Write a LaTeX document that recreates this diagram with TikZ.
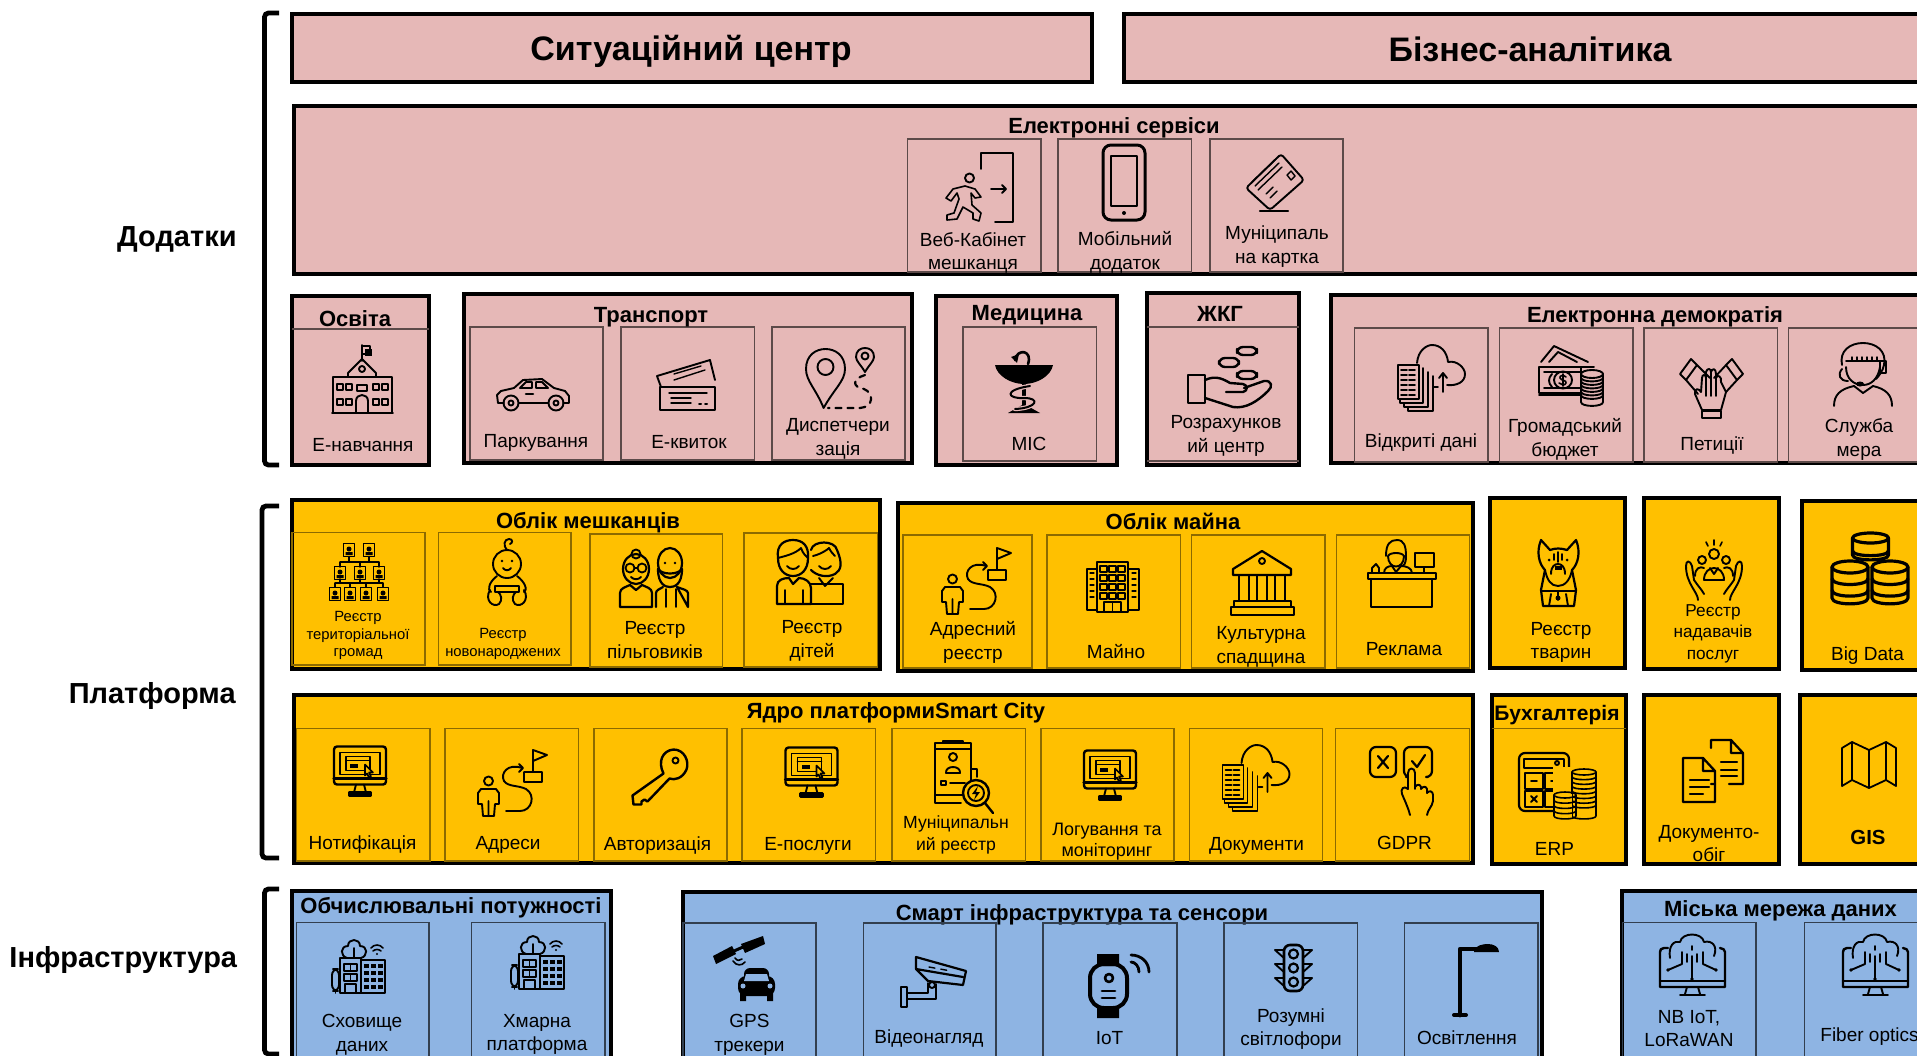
\documentclass[tikz,border=0pt]{standalone}
\usepackage{fontspec}
\setmainfont{Liberation Sans}
\definecolor{pnk}{HTML}{E6B8B7}
\definecolor{org}{HTML}{FFC000}
\definecolor{blu}{HTML}{8EB4E3}
\newcommand\bx[5]{\path[#1] (#2,#3) rectangle (#4,#5);}
\newcommand\cyl[6]{% cx top rx ry height bands
  \draw (#1-#3,#2) -- (#1-#3,#2+#5) .. controls (#1-#3,#2+#5+#4*1.3) and (#1+#3,#2+#5+#4*1.3) .. (#1+#3,#2+#5) -- (#1+#3,#2);
  \draw (#1,#2) ellipse [x radius=#3,y radius=#4];
  \foreach \k in {1,...,#6}{\draw (#1-#3,#2+\k*#5/#6-\k*#5/#6/4) .. controls (#1-#3,#2+\k*#5/#6-\k*#5/#6/4+#4*1.3) and (#1+#3,#2+\k*#5/#6-\k*#5/#6/4+#4*1.3) .. (#1+#3,#2+\k*#5/#6-\k*#5/#6/4);}
}
\tikzset{
  x=0.5pt,y=-0.5pt,
  outerp/.style={fill=pnk,draw=black,line width=2pt},
  outero/.style={fill=org,draw=black,line width=2pt},
  outerb/.style={fill=blu,draw=black,line width=2pt},
  cellp/.style={draw=black!60!pnk,line width=.55pt},
  cello/.style={draw=black!45!org,line width=.55pt},
  cellb/.style={draw=black!65!blu,line width=.55pt},
  brk/.style={draw=black,line width=2.4pt,rounded corners=2pt},
  lab/.style={font=\fontsize{9.5}{11.9}\selectfont,align=center,inner sep=0pt,text=black,yshift=-1.25pt},
  labm/.style={font=\fontsize{8.6}{10.8}\selectfont,align=center,inner sep=0pt,text=black,yshift=-1.25pt},
  labs/.style={font=\fontsize{7.4}{8.9}\selectfont,align=center,inner sep=0pt,text=black,yshift=-1.25pt},
  ttl/.style={font=\bfseries\fontsize{11}{12}\selectfont,align=center,inner sep=0pt,yshift=-1.25pt},
  big/.style={font=\bfseries\fontsize{17}{19}\selectfont,inner sep=0pt,yshift=-1.25pt},
  side/.style={font=\bfseries\fontsize{14.5}{16}\selectfont,anchor=east,inner sep=0pt,yshift=-1.25pt},
  icon/.style={line width=.95pt,line join=round,line cap=round},
  pics/icExit/.style={code={
    \draw (36,16)--(36,0)--(68,0)--(68,69)--(50,69);
    \draw (46,36)--(61,36) (57,32)--(61,36)--(57,40);
    \draw (24.5,25) circle (4.5);
    \draw[line width=.8pt] (20,33)--(30,36)--(36,44)--(30,45)--(26,40)--(27,52)--(36,60)--(34,68)--(28,66)--(28,60)--(18,54)--(12,66)--(2,67)--(2,62)--(9,60)--(14,46)--(12,40)--(6,48)--(1,45)--(8,36)--cycle;
  }},
  pics/icPhone/.style={code={
    \draw[line width=1.5pt,rounded corners=4pt] (0,0) rectangle (42,75);
    \draw[line width=1pt] (8,11) rectangle (34,61);
    \fill (21,68) circle (2);
  }},
  pics/icCard/.style={code={
    \draw[rounded corners=1.5pt] (35,0)--(58,26)--(24,56)--(0,34)--cycle;
    \draw[line width=.7pt] (6,28)--(30,5) (9,32)--(33,9) (12,36)--(36,13);
    \draw[line width=.7pt] (41,21)--(45,17)--(49,22)--(45,26)--cycle;
    \draw[line width=.7pt] (20,40)--(27,33) (24,44)--(31,37);
    \draw[line width=1.2pt] (14,57)--(42,57);
  }},
  pics/icSchool/.style={code={
    \draw (30,16)--(30,0) (30,1)--(38,1)--(38,9)--(30,9);
    \fill (33,4) rectangle (40,11);
    \draw (30,14)--(16,28)--(16,32) (30,14)--(44,28)--(44,32);
    \draw (30,24) circle (3);
    \draw (16,32)--(1,32)--(1,68)--(60,68)--(60,32)--(44,32)--(16,32);
    \draw (24,68)--(24,56) .. controls (24,48) and (36,48) .. (36,56)--(36,68);
    \draw (25,40) rectangle (35,46);
    \foreach \a in {5,14,41,50}{\foreach \b in {39,54}{\draw[line width=.7pt] (\a,\b) rectangle (\a+6,\b+6);}}
    \draw (0,68)--(61,68);
  }},
  pics/icCar/.style={code={
    \draw (8,25)--(2,25)--(1,17)--(5,13)--(18,10)--(27,2)--(46,1)--(58,10)--(69,13)--(73,18)--(73,25)--(67,25);
    \draw (23,25)--(52,25);
    \draw (15,25) circle (7.5) (15,25) circle (2.5) (60,25) circle (7.5) (60,25) circle (2.5);
    \draw (24,10)--(30,4)--(36,4)--(36,10)--cycle (40,4)--(46,4)--(52,10)--(40,10)--cycle;
    \draw[line width=1.3pt] (30,16)--(37,16);
  }},
  pics/icTickets/.style={code={
    \draw (4,27)--(0,16)--(53,0)--(58,20);
    \draw[line width=.7pt] (17,14)--(44,6) (17,20)--(48,10);
    \draw[line width=1.2pt] (3,27) rectangle (58,50);
    \draw[line width=.7pt] (12,33)--(50,33) (14,38)--(34,38) (14,43)--(34,43);
    \draw[line width=1pt,dotted] (42,44)--(52,44);
  }},
  pics/icPins/.style={code={
    \draw (17.6,61) .. controls (10,42) and (0,34) .. (0,22) .. controls (0,8) and (10,2) .. (19.5,2) .. controls (29,2) and (39,8) .. (39,22) .. controls (39,34) and (28,42) .. cycle;
    \draw (19.5,20) circle (8);
    \draw (59,25) .. controls (55,18) and (50,14) .. (50,10) .. controls (50,4) and (54,1) .. (59,1) .. controls (64,1) and (68,4) .. (68,10) .. controls (68,14) and (63,18) .. cycle;
    \draw (59,9) circle (3.5);
    \draw[dashed,line width=1.1pt] (59,28) .. controls (46,32) and (46,40) .. (58,42) .. controls (68,46) and (68,60) .. (54,61) -- (22,61);
  }},
  pics/icBowl/.style={code={
    \fill (0,13) -- (58,13) .. controls (56,24) and (42,32) .. (29,32) .. controls (16,32) and (2,24) .. cycle;
    \draw[line width=1.8pt] (29,32)--(29,54);
    \fill (13,61)--(45,61)--(29,52)--cycle;
    \draw[pnk,line width=2.2pt] (35,34) .. controls (8,38) and (12,47) .. (29,46) .. controls (46,46) and (42,56) .. (20,57);
    \draw[line width=1pt] (35,34) .. controls (8,38) and (12,47) .. (29,46) .. controls (46,46) and (42,56) .. (20,57);
    \draw[line width=1.3pt] (33,12) .. controls (38,-2) and (22,-4) .. (20,8);
    \fill (16,5)--(24,2)--(22,11)--cycle;
  }},
  pics/icHand/.style={code={
    \draw[rounded corners=3pt,line width=1.2pt] (49,0) rectangle (69,8) (31,11) rectangle (51,20) (49,24) rectangle (69,32);
    \draw[line width=1.2pt] (0,28) rectangle (17,56);
    \draw[line width=1.2pt] (17,33) .. controls (28,28) and (35,32) .. (42,36) -- (55,37) .. controls (60,38) and (60,44) .. (55,45) -- (38,45);
    \draw[line width=1.2pt] (56,41) -- (76,34) .. controls (84,33) and (85,40) .. (80,44) .. controls (70,54) and (58,62) .. (45,60) -- (17,51);
  }},
  pics/icCloudDocs/.style={code={
    \draw (1,21) rectangle (22,55);
    \foreach \b in {26,31,36,41,46,51}{\draw[line width=.8pt,dash pattern=on 3pt off 1pt] (4,\b)--(19,\b);}
    \draw (3,56)--(3,59)--(26,59)--(26,24) (7,60)--(7,63)--(31,63)--(31,28) (11,64)--(11,67)--(36,67)--(36,32);
    \draw (20,19) .. controls (21,6) and (30,1) .. (35,1) .. controls (44,1) and (50,8) .. (51,18) .. controls (60,16) and (68,24) .. (68,30) .. controls (68,38) and (60,42) .. (50,41);
    \draw (46,48)--(46,30) (42,34)--(46,29)--(50,34) (37,43)--(41,43);
  }},
  pics/icMoney/.style={code={
    \draw (2,17)--(15,1)--(49,17) (10,17)--(19,7)--(38,17);
    \draw (0,22)--(55,22) (0,22) rectangle (42,48);
    \draw (5,27)--(42,27) (5,43)--(42,43) (0,50)--(42,50);
    \draw (24,35) ellipse [x radius=9,y radius=8.5];
    \draw (13,29) .. controls (9,33) and (9,38) .. (13,42);
    \draw[line width=.8pt] (24,29)--(24,41) (27,32) .. controls (24,29) and (20,31) .. (21,33) .. controls (22,36) and (28,35) .. (27,38) .. controls (26,41) and (22,40) .. (20,38);
    \fill[pnk] (42,30) rectangle (64,58);
    \cyl{53}{29}{11}{4}{28}{6}
  }},
  pics/icPetition/.style={code={
    \draw (0,16)--(11,1)--(17,7)--(6,22)--cycle (63,16)--(52,1)--(46,7)--(57,22)--cycle;
    \draw (6,22)--(18,36) (17,7)--(30,20) (57,22)--(46,34) (46,7)--(34,20);
    \draw (22,60) rectangle (41,53);
    \draw (22,52)--(15,36) .. controls (14,30) and (19,30) .. (21,34) -- (22,20) .. controls (22,16) and (26,16) .. (26,20) -- (26,14) .. controls (27,10) and (31,10) .. (31,14) -- (31,14) .. controls (32,10) and (36,10) .. (36,16) -- (36,20) .. controls (37,16) and (42,18) .. (41,24) -- (46,34) -- (41,52) -- cycle;
    \draw (26,20)--(26,38) (31,14)--(31,38) (36,16)--(36,38);
  }},
  pics/icOperator/.style={code={
    \draw (8,22) .. controls (5,8) and (16,0) .. (29,0) .. controls (42,0) and (53,8) .. (50,22) .. controls (49,28) and (44,34) .. (42,36);
    \draw (12,24) .. controls (12,36) and (20,42) .. (29,42) .. controls (37,42) and (44,36) .. (46,24);
    \draw (12,18)--(46,18);
    \foreach \a in {18,23,28,33,38,43}{\draw[line width=.7pt] (\a,14)--(\a,18);}
    \draw (46,18) rectangle (52,30);
    \draw (8,26) .. controls (3,32) and (6,38) .. (14,38);
    \fill (26,41) ellipse [x radius=4,y radius=2.5];
    \draw (0,63) .. controls (0,52) and (6,46) .. (20,43) -- (29,50) -- (39,43) .. controls (52,46) and (58,52) .. (58,63);
  }},
  pics/icHier/.style={code={
    \draw[line width=.7pt] (20,12)--(20,17) (40,12)--(40,17) (11,17)--(50,17) (11,17)--(11,22) (31,17)--(31,22) (50,17)--(50,22);
    \draw[line width=.7pt] (6,38)--(54,38) (11,34)--(11,38) (31,34)--(31,38) (50,34)--(50,38) (6,38)--(6,42) (21,38)--(21,42) (37,38)--(37,42) (54,38)--(54,42);
    \foreach \a/\b in {20/5,40/5,11/28,31/28,50/28,6/49,21/49,37/49,54/49}{
      \draw[line width=.9pt] (\a-5.5,\b-6.5) rectangle (\a+5.5,\b+6.5);
      \fill (\a,\b-1) circle (2.5) (\a-3.5,\b+5) rectangle (\a+3.5,\b+2);
    }
  }},
  pics/icBaby/.style={code={
    \draw (20,12) .. controls (16,8) and (17,1) .. (22,1) .. controls (26,1) and (26,5) .. (23,6);
    \draw (20,26) circle (14);
    \fill (15,23) circle (1.4) (25,23) circle (1.4);
    \draw (16,30) .. controls (18,33) and (22,33) .. (24,30);
    \draw (10,38) .. controls (2,44) and (0,52) .. (4,54) (30,38) .. controls (38,44) and (41,52) .. (37,54);
    \draw (8,48)--(32,48)--(32,54)--(8,54)--cycle;
    \draw (3,52) .. controls (-3,62) and (6,70) .. (12,66) .. controls (16,62) and (14,56) .. (11,54);
    \draw (37,52) .. controls (43,62) and (34,70) .. (28,66) .. controls (24,62) and (26,56) .. (29,54);
  }},
  pics/icGrand/.style={code={
    \draw[line width=1.1pt] (18,26) ellipse [x radius=13,y radius=15];
    \draw (18,11) circle (4.5);
    \draw[line width=.9pt] (12,25) circle (4.5) (24,25) circle (4.5) (16.5,25)--(19.5,25);
    \draw (13,34) .. controls (16,37) and (20,37) .. (23,34);
    \draw[line width=1.1pt] (2,64)--(2,50) .. controls (2,45) and (8,44) .. (12,42) -- (18,47) -- (24,42) .. controls (28,44) and (34,45) .. (34,50) -- (34,64)--cycle;
    \draw[line width=1.1pt] (52,20) ellipse [x radius=12,y radius=15];
    \draw[line width=1.1pt] (40,26) .. controls (40,42) and (48,44) .. (52,44) .. controls (56,44) and (64,42) .. (64,26) .. controls (60,32) and (44,32) .. (40,26);
    \fill (47,20) circle (1.4) (57,20) circle (1.4);
    \draw[line width=1.1pt] (38,64)--(38,50) .. controls (38,47) and (42,46) .. (45,44) (59,44) .. controls (64,46) and (70,47) .. (70,50) -- (70,64)--cycle;
    \draw (48,46)--(48,64) (58,46)--(58,64);
  }},
  pics/icKids/.style={code={
    \draw[line width=1.1pt] (3,18) .. controls (1,4) and (10,0) .. (18,0) .. controls (28,0) and (34,6) .. (33,18) .. controls (33,30) and (26,36) .. (18,36) .. controls (10,36) and (3,30) .. (3,18);
    \draw (3,18) .. controls (10,16) and (20,14) .. (26,8) .. controls (28,14) and (31,16) .. (33,18);
    \draw (12,26) .. controls (15,30) and (21,30) .. (24,26);
    \draw[line width=1.1pt] (36,10) .. controls (38,0) and (60,0) .. (62,10) .. controls (68,24) and (66,30) .. (60,34) .. controls (52,38) and (42,36) .. (36,30);
    \draw (38,16) .. controls (46,14) and (52,10) .. (54,8) .. controls (56,12) and (58,14) .. (60,16);
    \draw (44,26) .. controls (47,30) and (53,30) .. (56,26);
    \draw[line width=1.1pt] (2,64)--(2,46) .. controls (2,40) and (8,38) .. (14,38) -- (18,44) -- (24,38) .. controls (30,38) and (36,42) .. (36,48) -- (36,64) -- cycle;
    \draw[line width=1.1pt] (36,44) -- (68,44) -- (68,64) -- (36,64);
    \draw (44,38)--(50,46)--(58,38);
    \draw (10,50)--(10,64) (28,50)--(28,64);
  }},
  pics/icRoute/.style={code={
    \draw (10.5,32) circle (4.5);
    \draw (3,40)--(18,40)--(21,44)--(21,55)--(17,55)--(16,67)--(5,67)--(4,55)--(0,55)--(0,44)--cycle (10.5,52)--(10.5,67);
    \draw (46,23) rectangle (64,33) (55,23)--(55,1)--(69,6)--(55,12);
    \draw (44,19) .. controls (30,14) and (22,24) .. (26,32) .. controls (30,38) and (40,36) .. (48,40) .. controls (58,46) and (54,62) .. (42,62) -- (28,62);
    \draw (41,15)--(45,19)--(41,23);
  }},
  pics/icBuilding/.style={code={
    \draw (0,7) rectangle (10,48) (41,7) rectangle (52,48) (10,0) rectangle (41,50);
    \foreach \a in {13,22,31}{\foreach \b in {4,13,22,31}{\draw[line width=.7pt] (\a,\b) rectangle (\a+7,\b+6);}}
    \foreach \b in {11,17,23,29,35}{\draw[line width=.6pt] (3,\b)--(7,\b) (45,\b)--(49,\b);}
    \draw (17,50)--(17,40)--(34,40)--(34,50) (25.5,40)--(25.5,50);
  }},
  pics/icMuseum/.style={code={
    \draw[line width=1.1pt] (31,0)--(60,18)--(60,24)--(2,24)--(2,18)--cycle;
    \draw (31,10) circle (3);
    \foreach \a in {8,26,44}{\draw[line width=1.1pt] (\a,24) rectangle (\a+10,50);}
    \draw[line width=1.1pt] (3,50) rectangle (60,56) (0,56) rectangle (63,64);
  }},
  pics/icDesk/.style={code={
    \draw[line width=1.2pt] (0,33) rectangle (68,39) (3,39)--(3,67)--(64,67)--(64,39);
    \draw (18,16) .. controls (18,4) and (22,0) .. (29,0) .. controls (36,0) and (38,6) .. (38,16) .. controls (38,24) and (36,26) .. (33,26);
    \draw (20,16) .. controls (20,30) and (36,30) .. (36,16) .. controls (34,12) and (22,12) .. (20,16);
    \draw (16,33) .. controls (16,28) and (20,26) .. (24,26) -- (28,32) -- (33,26) .. controls (38,26) and (44,28) .. (44,33);
    \draw (47,13) rectangle (66,27) (56,27)--(56,33) (50,33)--(62,33);
    \draw (4,33)--(4,28)--(8,24)--(11,28)--(11,33);
  }},
  pics/icDog/.style={code={
    \draw[line width=1.1pt] (4,0) .. controls (-1,12) and (2,24) .. (8,30) -- (4,50) -- (6,66) -- (37,66) -- (39,50) -- (35,30) .. controls (41,24) and (44,12) .. (39,0) -- (30,10) .. controls (24,8) and (18,8) .. (13,10) -- cycle;
    \draw (8,30) .. controls (10,40) and (14,46) .. (21,46) .. controls (28,46) and (33,40) .. (35,30);
    \draw (14,34) .. controls (14,26) and (18,24) .. (21,24) .. controls (24,24) and (28,26) .. (28,34);
    \fill (18,26) rectangle (25,30);
    \draw (21,12)--(21,22) (17,14)--(17,20) (25,14)--(25,20);
    \fill (12,20) circle (1.5) (30,20) circle (1.5);
    \draw (5,51)--(38,51) (21,52)--(21,60);
    \fill (21,58) circle (2.5);
    \draw (12,66)--(14,54) (31,66)--(29,54);
  }},
  pics/icCare/.style={code={
    \draw (14,60) .. controls (14,52) and (2,44) .. (2,26) .. controls (2,20) and (6,20) .. (8,26) -- (10,40) (10,40) .. controls (14,46) and (18,50) .. (20,54);
    \draw (46,60) .. controls (46,52) and (58,44) .. (58,26) .. controls (58,20) and (54,20) .. (52,26) -- (50,40) .. controls (46,46) and (42,50) .. (40,54);
    \draw (30,14) circle (5) (18,20) circle (4) (42,20) circle (4);
    \draw (20,40) .. controls (20,24) and (40,24) .. (40,40)--cycle;
    \draw (11,36) .. controls (11,28) and (16,26) .. (20,28) (49,36) .. controls (49,28) and (44,26) .. (40,28);
    \draw (26,28)--(30,34)--(34,28);
    \draw[line width=.8pt] (30,0)--(30,5) (22,2)--(24,6) (38,2)--(36,6);
  }},
  pics/icDB/.style={code={
    \begin{scope}[line width=1.6pt]
    \cyl{39.5}{5}{18}{5}{17}{1}
    \cyl{19}{34}{18}{6}{31}{2}
    \cyl{59}{34}{18}{6}{31}{2}
    \end{scope}
  }},
  pics/icMonitor/.style={code={
    \draw[line width=1.2pt,rounded corners=1.5pt] (0,0) rectangle (52,38);
    \draw[line width=1.6pt] (0,32)--(52,32);
    \draw (6,6) rectangle (46,28);
    \draw (12,10) rectangle (36,24) (12,14)--(36,14);
    \fill (16,17) rectangle (24,21);
    \fill[org] (31,18)--(39,26)--(35,26)--(37,30)--(35,31)--(33,27)--(31,29)--cycle;
    \draw[line width=.8pt] (31,18)--(39,26)--(35,26)--(37,30)--(35,31)--(33,27)--(31,29)--cycle;
    \draw (22,38)--(20,46) (30,38)--(32,46);
    \draw[line width=1.3pt] (15,49) rectangle (37,46);
  }},
  pics/icKey/.style={code={
    \draw[line width=1.2pt] (31,24) .. controls (25,12) and (30,1) .. (41,0) .. controls (52,0) and (57,12) .. (54,20) .. controls (50,29) and (42,31) .. (37,29) -- (15,52) -- (12,50) -- (9,52) -- (9,55) -- (1,55) -- (0,46) -- cycle;
    \draw (43,11) circle (3);
  }},
  pics/icMuni/.style={code={
    \draw (0,0) rectangle (36,52);
    \draw (0,6)--(36,6) (8,0)--(8,-2)--(28,-2)--(28,0);
    \draw (18,14) circle (4) (11,30) .. controls (10,22) and (26,22) .. (25,30) -- cycle;
    \draw (6,38) rectangle (11,42) (15,40)--(30,40);
    \draw (36,26)--(42,26)--(42,34);
    \draw (0,52)--(0,60)--(26,60);
    \fill[org] (41,50) circle (13);
    \draw[line width=1.2pt] (41,50) circle (13) (50,60)--(58,70);
    \draw (41,50) circle (8);
    \fill (43,43)--(37,51)--(41,51)--(39,57)--(45,49)--(41,49)--cycle;
  }},
  pics/icGdpr/.style={code={
    \draw[line width=1.1pt,rounded corners=3pt] (0,0) rectangle (26,30);
    \draw[line width=1.1pt] (8,9)--(18,21) (18,9)--(8,21);
    \draw[line width=1.1pt,rounded corners=3pt] (36,30)--(34,30)--(34,0)--(62,0)--(62,30)--(58,30);
    \draw[line width=1.1pt] (42,14)--(47,20)--(55,8);
    \fill[org] (38,22) rectangle (46,40);
    \draw (38,42)--(38,26) .. controls (38,20) and (45,20) .. (45,26) -- (45,42) -- (45,40) .. controls (47,37) and (50,37) .. (51,40) -- (51,42) .. controls (53,39) and (56,39) .. (57,42) -- (57,46) .. controls (59,43) and (63,44) .. (63,48) -- (63,54) .. controls (62,60) and (58,62) .. (57,68);
    \draw (38,42) .. controls (34,38) and (30,42) .. (32,47) .. controls (34,52) and (38,60) .. (40,68);
  }},
  pics/icErp/.style={code={
    \draw[rounded corners=3pt,line width=1.1pt] (0,0) rectangle (50,58);
    \draw (5,6) rectangle (45,15);
    \draw (38,10) circle (2);
    \draw (6,20) rectangle (24,36) (26,20) rectangle (44,36) (6,38) rectangle (24,54) (26,38) rectangle (44,54);
    \draw (12,28)--(18,28) (32,28)--(38,28) (35,25)--(35,31) (12,43)--(18,49) (18,43)--(12,49);
    \fill[org] (34,14) rectangle (78,67);
    \begin{scope}[line width=.8pt]
    \cyl{65}{19}{12}{3}{44}{7}
    \fill[org] (34,41) rectangle (53,67);
    \cyl{46}{42}{11}{3}{21}{3}
    \end{scope}
  }},
  pics/icDocs/.style={code={
    \begin{scope}[line width=1.15pt]
    \draw (28,44)--(32,44) (28,8)--(28,0)--(48,0)--(60,13)--(60,44)--(46,44) (48,0)--(48,13)--(60,13);
    \draw (38,22)--(54,22) (38,30)--(54,30) (38,36)--(54,36);
    \draw (0,18)--(20,18)--(32,31)--(32,62)--(0,62)--cycle (20,18)--(20,31)--(32,31);
    \draw (7,40)--(26,40) (7,47)--(26,47) (7,54)--(20,54);
    \end{scope}
  }},
  pics/icMap/.style={code={
    \draw[line width=.9pt] (0,6)--(10,0)--(27,8)--(44,0)--(54,6)--(54,44)--(44,38)--(27,46)--(10,38)--(0,44)--cycle (10,0)--(10,38) (27,8)--(27,46) (44,0)--(44,38);
  }},
  pics/icTown/.style={code={
    \draw (15,18) .. controls (8,16) and (8,6) .. (16,6) .. controls (16,-2) and (28,-2) .. (28,6) .. controls (36,6) and (36,16) .. (29,18);
    \draw (22,8)--(22,18);
    \draw (29,20) rectangle (53,53) (8,18) rectangle (29,53);
    \foreach \a in {32,39,46}{\foreach \b in {24,31,38,45}{\fill (\a,\b) rectangle (\a+4.5,\b+4);}}
    \foreach \b in {24,34}{\draw[line width=.7pt] (12,\b) rectangle (25,\b+7);\draw[line width=.7pt] (18.5,\b)--(18.5,\b+7);}
    \draw (13,53)--(13,44)--(24,44)--(24,53);
    \draw[rounded corners=3pt] (0,29) rectangle (7,51);
    \draw (3.5,51)--(3.5,53);
    \draw[line width=.8pt] (39,8) .. controls (42,4) and (48,4) .. (51,8) (41,11) .. controls (43,9) and (47,9) .. (49,11);
    \fill (45,14) circle (1.2);
  }},
  pics/icGps/.style={code={
    \fill (0,20)--(19,10)--(23,18)--(3,28)--cycle (28,8)--(50,0)--(52,8)--(32,17)--cycle;
    \draw[line width=1.5pt] (21,15)--(30,11);
    \draw[line width=.8pt] (22,22) .. controls (24,25) and (27,25) .. (29,23) (20,25) .. controls (23,30) and (29,30) .. (32,26);
    \fill[rounded corners=4pt] (25,40) rectangle (62,60);
    \fill[rounded corners=3pt] (31,32) rectangle (56,50);
    \fill (27,56) rectangle (33,65) (54,56) rectangle (60,65);
    \fill[blu] (33,38)--(54,38)--(56,45)--(31,45)--cycle;
    \fill[blu] (30,50) circle (2.5) (57,50) circle (2.5);
  }},
  pics/icCctv/.style={code={
    \draw[line width=1.1pt] (15,0)--(65,14)--(62,28)--(27,24)--(15,12)--cycle (15,12)--(62,20);
    \draw[line width=.7pt,dashed] (28,10)--(50,14);
    \draw (27,26)--(27,36) (35,27)--(35,42)--(6,42) (27,36)--(6,36);
    \draw (31,28) circle (3);
    \draw[line width=1.1pt] (0,30) rectangle (6,50);
  }},
  pics/icWatch/.style={code={
    \fill (8,0) rectangle (30,12) (8,52) rectangle (30,64);
    \draw[line width=2pt,rounded corners=7pt] (1,10) rectangle (38,54);
    \draw[line width=1.3pt] (20,24) circle (4);
    \draw[line width=1.4pt] (13,37)--(26,37) (13,44)--(26,44);
    \draw[line width=1.4pt] (42,8) .. controls (46,8) and (50,12) .. (50,18) (42,1) .. controls (52,1) and (60,8) .. (60,18);
  }},
  pics/icLight/.style={code={
    \draw[line width=1.3pt,rounded corners=3pt] (9,0) rectangle (28,46);
    \foreach \b in {9,23,37}{\draw[line width=1.1pt] (18.5,\b) circle (4.5);\draw (9,\b-4)--(0,\b-4)--(9,\b+4) (28,\b-4)--(37,\b-4)--(28,\b+4);}
  }},
  pics/icLamp/.style={code={
    \draw[line width=2.4pt] (8,71)--(8,5)--(24,5);
    \fill (22,8) .. controls (22,1) and (32,0) .. (36,0) .. controls (42,0) and (47,3) .. (47,8) -- cycle;
    \draw[line width=2pt] (2,71)--(14,71);
  }},
  pics/icNet/.style={code={
    \draw[line width=1.2pt] (8,16) -- (4,16) .. controls (1,16) and (0,18) .. (0,20) -- (0,55) -- (65,55) -- (65,20) .. controls (65,18) and (63,16) .. (60,16);
    \draw[line width=1.2pt] (0,49)--(65,49);
    \draw (27,55)--(25,62) (38,55)--(40,62) (20,63)--(45,63);
    \draw (10,26) .. controls (8,14) and (14,8) .. (20,10) .. controls (22,0) and (42,0) .. (44,10) .. controls (52,8) and (58,14) .. (54,24);
    \draw (22,20)--(22,32)--(8,38) (43,20)--(43,32)--(56,38) (32,14)--(32,18) (32,24)--(32,46) (27,22)--(27,30) (37,22)--(37,30);
    \fill (8,38) circle (1.8) (56,38) circle (1.8) (32,47) circle (1.8);
  }},
}
\begin{document}
\begin{tikzpicture}
\useasboundingbox (0,0) rectangle (1917,1055);
\clip (0,0) rectangle (1917,1055);
\fill[white] (0,0) rectangle (1917,1055);

% side labels and brackets
\node[side] (sideA) at (237,237) {Додатки};
\node[side] (sideP) at (236,693) {Платформа};
\node[side] (sideI) at (237.5,957) {Інфраструктура};
\draw[brk] (279,13)--(264.5,13)--(264.5,465)--(279,465);
\draw[brk] (279,506)--(262,506)--(262,858)--(279,858);
\draw[brk] (279,889)--(264.5,889)--(264.5,1054)--(279,1054);

% top row
\bx{outerp}{292}{14}{1092}{82}
\bx{outerp}{1124}{14}{1940}{82}
\node[big] (tSit) at (691,49) {Ситуаційний центр};
\node[big] (tBiz) at (1530,46.5) {Бізнес-аналітика};

% e-services
\bx{outerp}{294}{106}{1940}{274}
\node[ttl] (tEs) at (1114,125) {Електронні сервіси};
\foreach \a/\b in {907.5/1041,1058/1191.5,1210/1343}{\bx{cellp}{\a}{139}{\b}{272}}
\node[lab] (lWeb) at (973,250.5) {Веб-Кабінет\\мешканця};
\node[lab] (lMob) at (1125,250) {Мобільний\\додаток};
\node[lab] (lCard) at (1277,244) {Муніципаль\\на картка};
\pic[icon] at (945,153) {icExit};
\pic[icon] at (1103,145) {icPhone};
\pic[icon] at (1246,154) {icCard};

% row 3
\bx{outerp}{292}{296}{429}{465}
\draw[cellp] (292,329)--(429,329);
\node[ttl] (tEdu) at (355,316) {Освіта};
\node[lab] (lEdu) at (363,442.5) {Е-навчання};
\pic[icon] at (332,345) {icSchool};

\bx{outerp}{464}{294}{912}{463}
\foreach \a/\b in {470/603,621/754.5,772/905}{\bx{cellp}{\a}{327}{\b}{460}}
\node[ttl] (tTr) at (651,315) {Транспорт};
\node[lab] (lPark) at (536,440) {Паркування};
\node[lab] (lTick) at (689,439.5) {Е-квиток};
\node[lab] (lDisp) at (838,436) {Диспетчери\\зація};
\pic[icon] at (496,378) {icCar};
\pic[icon] at (657,360) {icTickets};
\pic[icon] at (806,347) {icPins};

\bx{outerp}{936}{296}{1117}{465}
\bx{cellp}{963}{327}{1096.5}{461}
\node[ttl] (tMed) at (1027,313) {Медицина};
\node[lab] (lMis) at (1029,441) {МІС};
\pic[icon] at (995,352) {icBowl};

\bx{outerp}{1147}{293}{1298.5}{465}
\draw[cellp] (1147,327)--(1298.5,327) (1147,461)--(1298.5,461);
\node[ttl] (tZkg) at (1220,311) {ЖКГ};
\node[lab] (lRoz) at (1226,433.5) {Розрахунков\\ий центр};
\pic[icon] at (1188,347) {icHand};

\bx{outerp}{1331}{295}{1940}{463}
\foreach \a/\b in {1354.5/1488,1499.5/1633,1644/1777.5,1788.5/1930}{\bx{cellp}{\a}{328}{\b}{462}}
\node[ttl] (tDem) at (1655,314) {Електронна демократія};
\node[lab] (lOpen) at (1421,440) {Відкриті дані};
\node[lab] (lBud) at (1565,437) {Громадський\\бюджет};
\node[lab] (lPet) at (1712,443) {Петиції};
\node[lab] (lMer) at (1859,437) {Служба\\мера};
\pic[icon] at (1397,344) {icCloudDocs};
\pic[icon] at (1539,345) {icMoney};
\pic[icon] at (1680,358) {icPetition};
\pic[icon] at (1834,343) {icOperator};

% platform row 1
\bx{outero}{292}{500}{880}{669}
\node[ttl] (tRes) at (588,520) {Облік мешканців};
\bx{cello}{292}{532.5}{425}{665}
\bx{cello}{438.5}{532.5}{571}{665}
\bx{cello}{590}{534}{722.5}{667}
\bx{cello}{744}{533}{877.5}{667}
\node[labs] (lTer) at (358,633) {Реєстр\\територіальної\\громад};
\node[labs] (lNov) at (503,641.5) {Реєстр\\новонароджених};
\node[lab] (lPil) at (655,637.5) {Реєстр\\пільговиків};
\node[lab] (lDit) at (812,638) {Реєстр\\дітей};
\pic[icon] at (329,545) {icHier};
\pic[icon] at (487,538) {icBaby};
\pic[icon] at (618,543) {icGrand};
\pic[icon] at (775,540) {icKids};

\bx{outero}{898}{503}{1473}{671}
\node[ttl] (tPro) at (1173,518.5) {Облік майна};
\foreach \a/\b in {903/1032,1047/1180.5,1191.5/1325,1336.5/1469.5}{\bx{cello}{\a}{535}{\b}{668}}
\node[lab] (lAdr) at (973,640) {Адресний\\реєстр};
\node[lab] (lMay) at (1116,649) {Майно};
\node[lab] (lKul) at (1261,644.5) {Культурна\\спадщина};
\node[lab] (lRek) at (1404,646.5) {Реклама};
\pic[icon] at (942,547) {icRoute};
\pic[icon] at (1087,562) {icBuilding};
\pic[icon] at (1231,551) {icMuseum};
\pic[icon] at (1368,540) {icDesk};

\bx{outero}{1490}{498}{1624.5}{668}
\node[lab] (lTva) at (1561,640) {Реєстр\\тварин};
\pic[icon] at (1537,540) {icDog};
\bx{outero}{1644}{498}{1779}{669}
\node[labm] (lNad) at (1713,631) {Реєстр\\надавачів\\послуг};
\pic[icon] at (1684,540) {icCare};
\bx{outero}{1802}{501}{1940}{670}
\node[lab] (lBig) at (1867.5,653) {Big Data};
\pic[icon] at (1831,533) {icDB};

% platform row 2
\bx{outero}{294}{695}{1473}{863}
\node[ttl] (tCore) at (896,710) {Ядро платформиSmart City};
\foreach \a/\b in {296.5/430,445/578.5,594/727,742/875.5,892/1025.5,1041/1174,1189.5/1322.5,1335.5/1469.5}{\bx{cello}{\a}{728.5}{\b}{861}}
\node[lab] (lNot) at (362.5,842) {Нотифікація};
\node[lab] (lAd2) at (508,842) {Адреси};
\node[lab] (lAvt) at (657.5,843) {Авторизація};
\node[lab] (lEpo) at (808,843) {Е-послуги};
\node[lab,font=\fontsize{8.8}{10.8}\selectfont] (lMun) at (956,832.5) {Муніципальн\\ий реєстр};
\node[lab,font=\fontsize{9}{10.8}\selectfont] (lLog) at (1107,839) {Логування та\\моніторинг};
\node[lab] (lDoc) at (1256.5,843) {Документи};
\node[lab] (lGdp) at (1404.5,840) {GDPR};
\pic[icon] at (334,746.5) {icMonitor};
\pic[icon] at (478,749) {icRoute};
\pic[icon] at (632.5,749.5) {icKey};
\pic[icon] at (785.5,747.5) {icMonitor};
\pic[icon] at (935,743) {icMuni};
\pic[icon] at (1084,750.5) {icMonitor};
\pic[icon] at (1221.5,744) {icCloudDocs};
\pic[icon] at (1370,747) {icGdpr};

\bx{outero}{1492}{695}{1625.5}{864}
\draw[cello] (1492,728.5)--(1625.5,728.5);
\node[ttl,font=\bfseries\fontsize{10.5}{12}\selectfont] (tBuh) at (1557,713) {Бухгалтерія};
\node[lab] (lErp) at (1554.5,846) {ERP};
\pic[icon] at (1519,753) {icErp};
\bx{outero}{1644}{695}{1779}{864}
\node[lab] (lDob) at (1709,841) {Документо-\\обіг};
\pic[icon] at (1683,740) {icDocs};
\bx{outero}{1800}{695}{1940}{864}
\node[ttl,font=\bfseries\fontsize{10.2}{12}\selectfont] (lGis) at (1868,834.5) {GIS};
\pic[icon] at (1842,742) {icMap};

% infrastructure
\bx{outerb}{292}{891}{611}{1090}
\node[ttl] (tObc) at (451,905) {Обчислювальні потужності};
\bx{cellb}{296.5}{922.5}{429}{1090}
\bx{cellb}{471.5}{922.5}{605}{1090}
\node[lab] (lSkh) at (362,1032) {Сховище\\даних};
\node[lab] (lKhm) at (537,1032) {Хмарна\\платформа};
\pic[icon] at (332,940) {icTown};
\pic[icon] at (511,936) {icTown};

\bx{outerb}{683}{891.5}{1542}{1090}
\node[ttl] (tSma) at (1082,912) {Смарт інфраструктура та сенсори};
\foreach \a/\b in {683/816,863.5/996,1043/1177,1224/1357.5,1404.5/1538}{\bx{cellb}{\a}{923}{\b}{1090}}
\node[lab] (lGps) at (749.5,1032.5) {GPS\\трекери};
\node[lab] (lVid) at (929,1035.5) {Відеонагляд};
\node[lab] (lIot) at (1109.5,1035.5) {IoT};
\node[lab] (lSvi) at (1291,1026.5) {Розумні\\світлофори};
\node[lab] (lOsv) at (1467,1035) {Освітлення};
\pic[icon] at (713,936) {icGps};
\pic[icon] at (901,957) {icCctv};
\pic[icon] at (1089,954) {icWatch};
\pic[icon] at (1275,945) {icLight};
\pic[icon] at (1452,944) {icLamp};

\bx{outerb}{1622}{891}{1940}{1090}
\node[ttl] (tMer) at (1780.5,908) {Міська мережа даних};
\bx{cellb}{1622.5}{922.5}{1756}{1090}
\bx{cellb}{1804.5}{922.5}{1940}{1090}
\node[lab] (lNb) at (1689,1026) {NB IoT,\\LoRaWAN};
\node[lab] (lFib) at (1869.5,1034.5) {Fiber optics};
\pic[icon] at (1660,932) {icNet};
\pic[icon] at (1843,932) {icNet};
\end{tikzpicture}
\end{document}
